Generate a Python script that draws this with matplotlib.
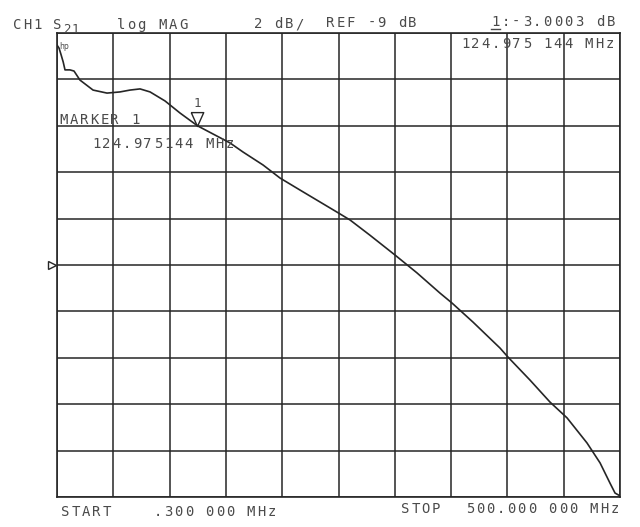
import numpy as np
import matplotlib
matplotlib.use("Agg")
import matplotlib.pyplot as plt
from matplotlib.lines import Line2D
from matplotlib.transforms import offset_copy

# trace: frequency in MHz, S21 in dB
freq = [0.3, 2.1, 4.0, 5.8, 7.4, 11.8, 15.4, 20.7, 32.3, 44.7, 56.2, 65.1,
        74.0, 82.9, 96.2, 109.5, 125.0, 153.9, 165.4, 183.2, 198.2, 216.0,
        248.8, 260.4, 277.9, 300.3, 319.8, 340.2, 350.9, 369.5, 393.5, 400.6,
        420.1, 437.9, 453.0, 470.7, 482.3, 491.1, 495.6, 500.0]
s21 = [0.48, 0.35, 0.05, -0.25, -0.59, -0.59, -0.64, -1.03, -1.46, -1.59,
       -1.54, -1.46, -1.41, -1.54, -1.93, -2.45, -3.00, -3.74, -4.13, -4.69,
       -5.25, -5.77, -6.72, -7.06, -7.71, -8.57, -9.34, -10.21, -10.64,
       -11.46, -12.58, -12.97, -13.96, -14.91, -15.59, -16.67, -17.53, -18.40,
       -18.83, -18.95]

start_mhz = 0.3
stop_mhz = 500.0
ref_db = -9
db_per_div = 2
marker_f = 124.975144
marker_db = -3.0003

W, H = 640, 527
ink = "#262626"
txt = "#4a4a4a"

fig = plt.figure(figsize=(W / 100, H / 100), dpi=100)
fig.patch.set_facecolor("white")
ax = fig.add_axes([57 / W, 1 - 497 / H, 563 / W, 464 / H])

top = ref_db + 5 * db_per_div
bottom = ref_db - 5 * db_per_div
ax.set_xlim(start_mhz, stop_mhz)
ax.set_ylim(bottom, top)
ax.set_xticks(np.linspace(start_mhz, stop_mhz, 11))
ax.set_yticks(np.arange(bottom, top + 1, db_per_div))
ax.tick_params(length=0, labelbottom=False, labelleft=False)
ax.grid(True, color=ink, lw=1.1)
for sp in ax.spines.values():
    sp.set_color(ink)
    sp.set_linewidth(1.2)

ax.plot(freq, s21, color=ink, lw=1.2)

# marker 1 triangle, tip on the trace
tri = [(-0.45, 1), (0.45, 1), (0, 0), (-0.45, 1)]
ax.plot([marker_f], [marker_db], marker=tri, ms=20, mfc="none", mec=ink, mew=1.0)
ax.annotate("1", (marker_f, marker_db), xytext=(0, 16), textcoords="offset pixels",
            ha="center", va="bottom", fontsize=9, family="DejaVu Sans Mono", color=txt)

# reference position arrow on the left edge
ref_tr = offset_copy(ax.transData, fig=fig, x=-5, y=0, units="dots")
ax.plot([start_mhz], [ref_db], marker=">", ms=6, mfc="none", mec=ink, mew=1.0,
        transform=ref_tr, clip_on=False)

ax.text(0.004, 0.97, "hp", transform=ax.transAxes, fontsize=5.5,
        color=txt, va="center", ha="left")


def put(x, y, s, size=10, pitch=10.3):
    # plotter style text: fixed pitch, each glyph placed on its own
    for i, ch in enumerate(s):
        if ch != " ":
            fig.text((x + pitch * (i + 0.5)) / W, 1 - y / H, ch, ha="center",
                     va="baseline", fontsize=size, family="DejaVu Sans Mono",
                     color=txt)


put(12, 29, "CH1")
put(52, 29, "S")
put(63, 33, "21", size=9, pitch=8.5)
put(116, 29, "log MAG")
put(253, 28, "2 dB/")
put(325, 27, "REF -9 dB")
put(490, 26, "1:-3.0003 dB", pitch=10.5)
fig.add_artist(Line2D([491 / W, 500 / W], [1 - 29 / H, 1 - 29 / H], color=txt, lw=1.0))
put(460, 48, "124.975 144 MHz")
put(58, 124, "MARKER 1")
put(91, 148, "124.975144 MHz")
put(60, 516, "START")
put(153, 516, ".300 000 MHz")
put(400, 513, "STOP")
put(465, 513, "500.000 000 MHz")

fig.savefig("out.png", dpi=100, facecolor="white")
